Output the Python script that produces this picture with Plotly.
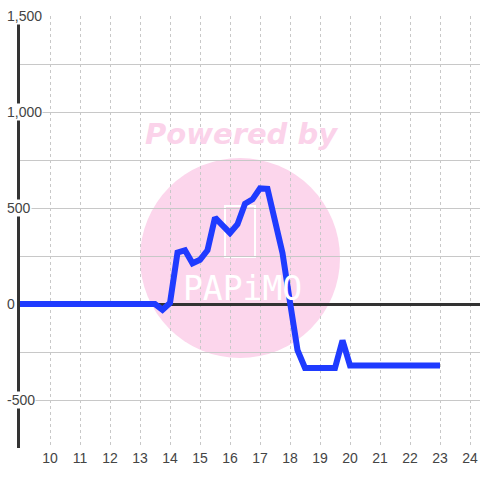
import plotly.graph_objects as go

# Data (hours of day, value)
hours = [9.0, 13.5, 13.75, 14.0, 14.25, 14.5, 14.75, 15.0, 15.25, 15.5, 15.75,
         16.0, 16.25, 16.5, 16.75, 17.0, 17.25, 17.5, 17.75, 18.0, 18.25, 18.5,
         19.0, 19.5, 19.75, 20.0, 21.0, 22.0, 23.0]
values = [0, 0, -30, 5, 268, 280, 212, 230, 280, 450, 410,
          370, 415, 522, 545, 602, 600, 430, 265, 10, -240, -333,
          -333, -333, -190, -320, -320, -320, -320]

y_tick_vals = [1500, 1000, 500, 0, -500]
y_tick_text = ["1,500", "1,000", "500", "0", "-500"]
x_tick_vals = list(range(10, 25))

fig = go.Figure()
fig.add_trace(go.Scatter(
    x=hours, y=values, mode="lines",
    line=dict(color="#1f3bff", width=6),
    hoverinfo="skip", showlegend=False,
))

# watermark
fig.add_shape(type="circle", xref="paper", yref="paper",
              x0=(140 - 20) / 460, x1=(340 - 20) / 460,
              y0=(448 - 358) / 432, y1=(448 - 158) / 432,
              fillcolor="#fcd6ec", line=dict(width=0), layer="below")
fig.add_shape(type="rect", xref="paper", yref="paper",
              x0=(225 - 20) / 460, x1=(255 - 20) / 460,
              y0=(448 - 257) / 432, y1=(448 - 206) / 432,
              fillcolor="rgba(0,0,0,0)", line=dict(color="white", width=2), layer="below")
fig.add_annotation(text="<b><i>Powered by</i></b>", xref="paper", yref="paper",
                   x=(241 - 20) / 460, y=(448 - 134) / 432, showarrow=False,
                   xanchor="center", yanchor="middle",
                   font=dict(family="DejaVu Sans", size=29, color="#fbd3ea"))
fig.add_annotation(text="PAPiMO", xref="paper", yref="paper",
                   x=(242 - 20) / 460, y=(448 - 288) / 432, showarrow=False,
                   xanchor="center", yanchor="middle",
                   font=dict(family="DejaVu Sans Mono", size=33, color="white"))

# y tick labels with background
for v, t in zip(y_tick_vals, y_tick_text):
    fig.add_annotation(text=t, xref="paper", yref="y", x=(6 - 20) / 460, y=v,
                       xanchor="left", yanchor="middle", showarrow=False,
                       bgcolor="white", borderpad=0,
                       font=dict(family="Liberation Sans, Arial", size=14, color="#444"))

fig.update_layout(
    width=480, height=480,
    margin=dict(l=20, r=0, t=16, b=32),
    paper_bgcolor="white", plot_bgcolor="rgba(0,0,0,0)",
    xaxis=dict(range=[9, 24 + 1 / 3], tickvals=x_tick_vals, showgrid=True,
               gridcolor="#c8c8c8", gridwidth=1, griddash="dot",
               zeroline=False, showline=False, ticks="",
               tickfont=dict(family="Liberation Sans, Arial", size=14, color="#444")),
    yaxis=dict(range=[-750, 1500], dtick=250, tick0=0, showgrid=True,
               gridcolor="#c8c8c8", gridwidth=1, showticklabels=False, ticks="",
               zeroline=True, zerolinecolor="#333", zerolinewidth=3,
               showline=True, linecolor="#333", linewidth=3),
)

fig.write_html("out.html", config={"displayModeBar": False},
               post_script="document.body.style.margin='0';document.body.style.overflow='hidden';")
